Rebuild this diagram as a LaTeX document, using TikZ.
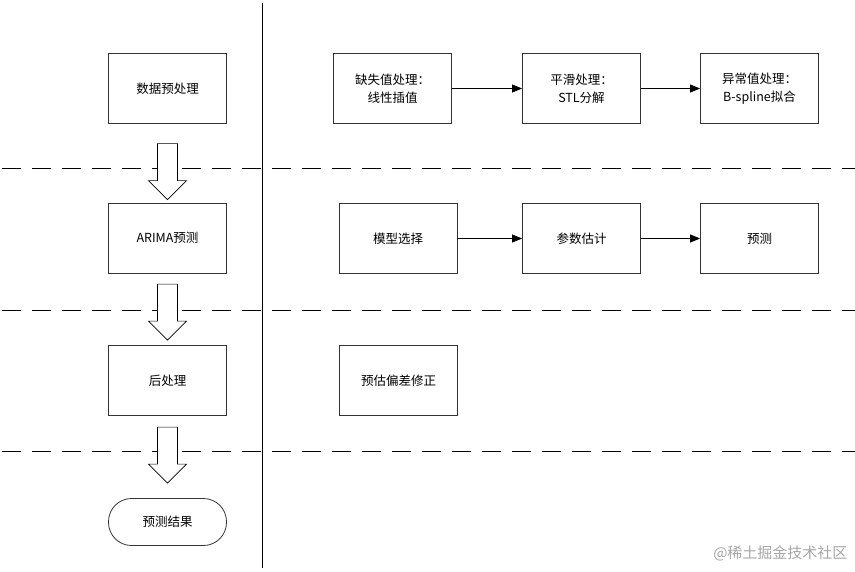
\documentclass[tikz,border=0pt]{standalone}
\usepackage{fontspec}
\setmainfont{Noto Sans CJK SC}
\usetikzlibrary{arrows.meta,calc}

\begin{document}
\begin{tikzpicture}[x=1pt,y=-1pt,>={Triangle[length=10pt,width=8pt]},
 font=\fontsize{12.5}{18}\selectfont,
 box/.style={draw=black!80,line width=0.8pt,minimum width=118pt,minimum height=70pt,align=center,inner sep=2pt},
 term/.style={draw=black!80,line width=0.8pt,rounded corners=23pt,minimum width=118pt,minimum height=47pt},
 bigarrow/.style={draw=black,line width=0.7pt,fill=white},
 lane/.style={line width=0.8pt,dash pattern=on 19pt off 11pt}]
\useasboundingbox (0,0) rectangle (855,571);
% lanes
\draw[line width=0.8pt] (262,3) -- (262,568);
\draw[lane] (2,168) -- (855,168);
\draw[lane] (2,310) -- (855,310);
\draw[lane] (2,451) -- (855,451);
% left column
\node[box] (pre) at (167.5,88.5) {数据预处理};
\node[box] (arima) at (167.5,238) {ARIMA预测};
\node[box] (post) at (167.5,380.5) {后处理};
\node[term] (res) at (167.5,522) {预测结果};
\foreach \a/\b/\g in {pre/arima/3,arima/post/5,post/res/15}
  \draw[bigarrow] ($(\b.north)+(-10,-56-\g)$) -- ++(0,37) -- ++(-9,0) -- ++(19,19)
    -- ++(19,-19) -- ++(-9,0) -- ++(0,-37) -- cycle;
% right side
\node[box] (miss) at (392.5,88.5) {缺失值处理：\\线性插值};
\node[box] (smooth) at (581.5,88.5) {平滑处理：\\STL分解};
\node[box] (outl) at (759.5,88.5) {异常值处理：\\B-spline拟合};
\node[box] (sel) at (398,238.5) {模型选择};
\node[box] (est) at (581.5,238.5) {参数估计};
\node[box] (fc) at (759.5,238.5) {预测};
\node[box] (bias) at (398.5,380.5) {预估偏差修正};
\draw[->,line width=0.8pt] (miss) -- (smooth);
\draw[->,line width=0.8pt] (smooth) -- (outl);
\draw[->,line width=0.8pt] (sel) -- (est);
\draw[->,line width=0.8pt] (est) -- (fc);
\node[text=black!35,font=\fontsize{15}{18}\selectfont,anchor=east] (mark) at (851,553) {@稀土掘金技术社区};
\end{tikzpicture}
\end{document}
